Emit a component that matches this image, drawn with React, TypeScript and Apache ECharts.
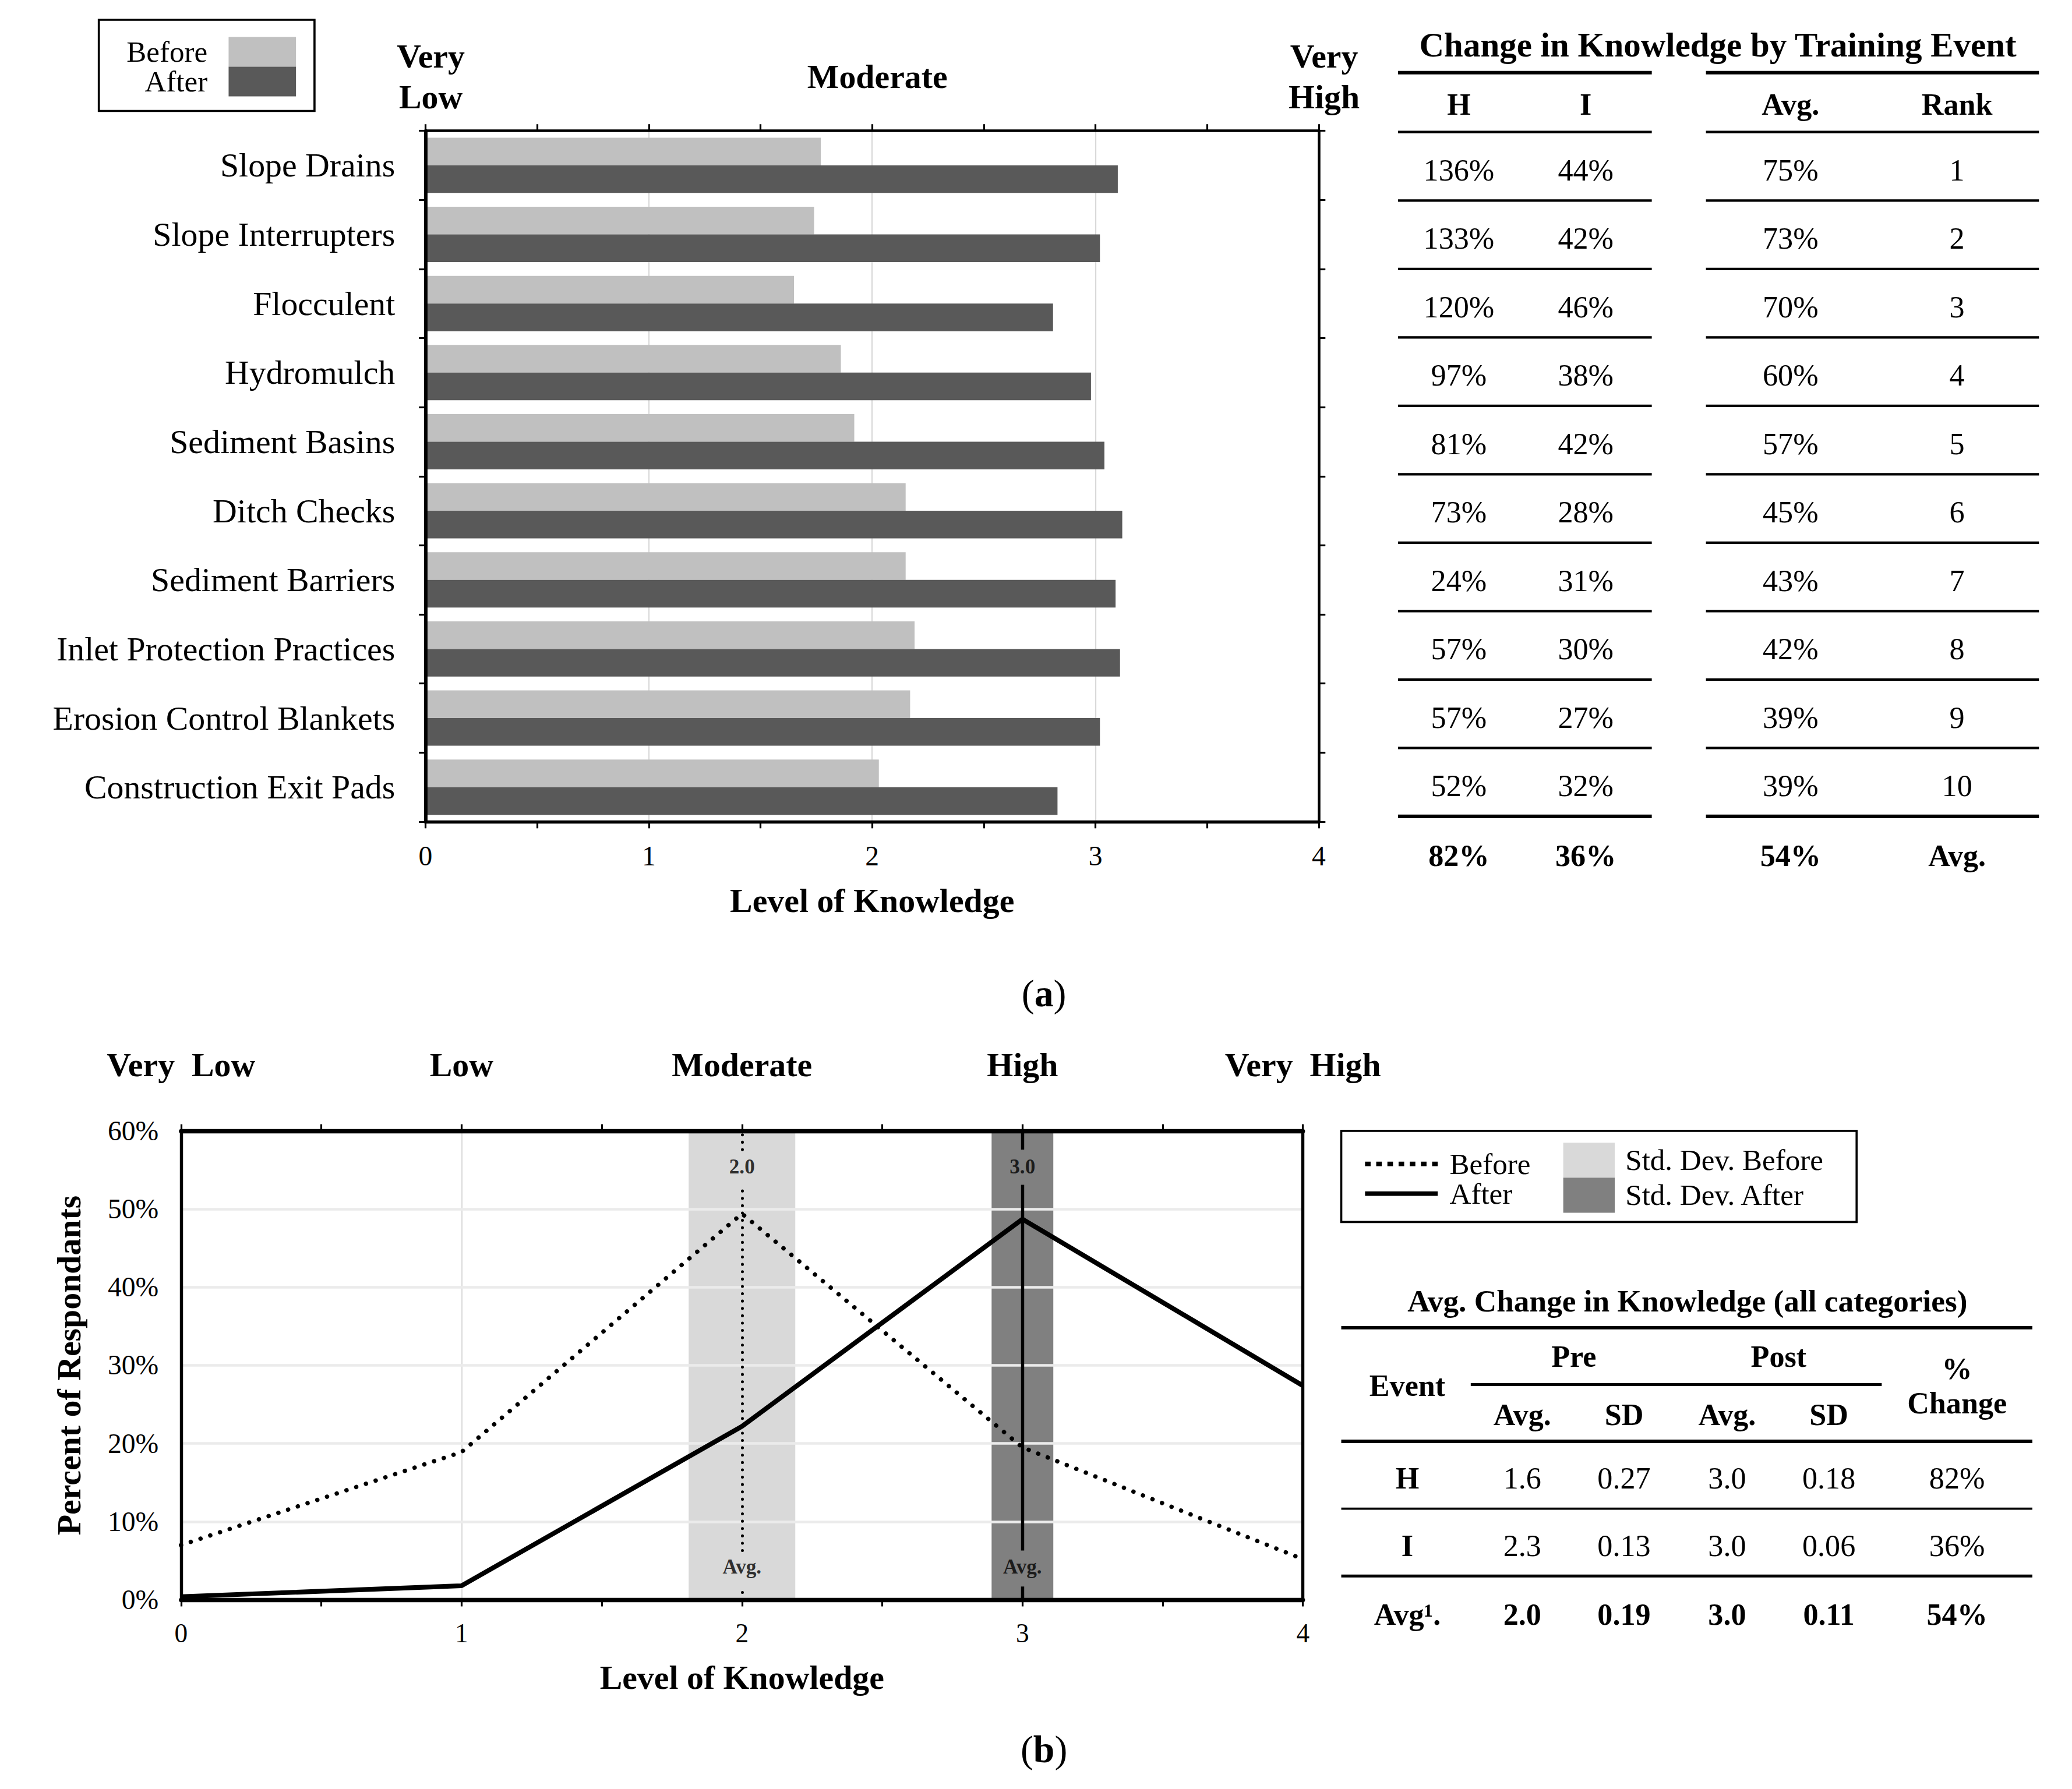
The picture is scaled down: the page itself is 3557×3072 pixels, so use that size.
import React, { useEffect, useRef } from "react";
import * as echarts from "echarts";

const W = 3557;
const H = 3072;
const k = W / 1568;
const p = (v: number) => v * k;
const FONT = '"Liberation Serif", "Times New Roman", serif';

// ---------- Panel (a) data ----------
const categories = [
  "Slope Drains",
  "Slope Interrupters",
  "Flocculent",
  "Hydromulch",
  "Sediment Basins",
  "Ditch Checks",
  "Sediment Barriers",
  "Inlet Protection Practices",
  "Erosion Control Blankets",
  "Construction Exit Pads",
];
const beforeLevel = [1.77, 1.74, 1.65, 1.86, 1.92, 2.15, 2.15, 2.19, 2.17, 2.03];
const afterLevel = [3.1, 3.02, 2.81, 2.98, 3.04, 3.12, 3.09, 3.11, 3.02, 2.83];
const levelLabelsA = ["Very\nLow", "", "Moderate", "", "Very\nHigh"];
const changeH = [136, 133, 120, 97, 81, 73, 24, 57, 57, 52];
const changeI = [44, 42, 46, 38, 42, 28, 31, 30, 27, 32];
const changeAvg = [75, 73, 70, 60, 57, 45, 43, 42, 39, 39];
const ranks = [1, 2, 3, 4, 5, 6, 7, 8, 9, 10];
const totalsA = [82, 36, 54];
const tableAHeaders = ["H", "I", "Avg.", "Rank"];

// ---------- Panel (b) data ----------
const levelLabelsB = ["Very  Low", "Low", "Moderate", "High", "Very  High"];
const knowledgeLevels = [0, 1, 2, 3, 4];
const beforePct = [7.0, 18.9, 49.4, 19.5, 5.2];
const afterPct = [0.4, 1.8, 22.2, 48.7, 27.4];
const events = ["H", "I", "Avg¹."];
const preAvg = [1.6, 2.3, 2.0];
const preSD = [0.27, 0.13, 0.19];
const postAvg = [3.0, 3.0, 3.0];
const postSD = [0.18, 0.06, 0.11];
const pctChange = [82, 36, 54];
const lineLegendNames: Record<string, string> = { "Before line": "Before", "After line": "After" };

const font = (size: number, bold = false) => `${bold ? "bold " : ""}${p(size)}px ${FONT}`;

function txt(x: number, y: number, text: string, size: number, bold = false, align = "center") {
  return {
    type: "text",
    x: p(x),
    y: p(y),
    silent: true,
    style: { text, font: font(size, bold), fill: "#000", align, verticalAlign: "middle" },
  };
}
function hline(x1: number, x2: number, y: number, w: number) {
  return {
    type: "line",
    silent: true,
    shape: { x1: p(x1), y1: p(y), x2: p(x2), y2: p(y) },
    style: { stroke: "#000", lineWidth: p(w) },
  };
}

function buildGraphics() {
  const els: any[] = [];
  // Table (a)
  els.push(txt(1300, 34, "Change in Knowledge by Training Event", 26, true));
  const segs = [
    [1058, 1250],
    [1291, 1543],
  ];
  const step = 51.8;
  segs.forEach(([a, b]) => {
    els.push(hline(a, b, 55, 2.6));
    els.push(hline(a, b, 100, 2));
    for (let i = 1; i <= 10; i++) els.push(hline(a, b, 100 + i * step, i === 10 ? 2.8 : 1.9));
  });
  const colA = [1104, 1200, 1355, 1481];
  tableAHeaders.forEach((h, j) => els.push(txt(colA[j], 79, h, 23, true)));
  for (let i = 0; i < categories.length; i++) {
    const y = 100 + (i + 0.5) * step + 3;
    els.push(txt(colA[0], y, `${changeH[i]}%`, 23));
    els.push(txt(colA[1], y, `${changeI[i]}%`, 23));
    els.push(txt(colA[2], y, `${changeAvg[i]}%`, 23));
    els.push(txt(colA[3], y, `${ranks[i]}`, 23));
  }
  els.push(txt(colA[0], 648, `${totalsA[0]}%`, 23, true));
  els.push(txt(colA[1], 648, `${totalsA[1]}%`, 23, true));
  els.push(txt(colA[2], 648, `${totalsA[2]}%`, 23, true));
  els.push(txt(colA[3], 648, "Avg.", 23, true));

  // Legend (b) border
  els.push({
    type: "rect",
    silent: true,
    shape: { x: p(1015), y: p(856), width: p(390), height: p(69) },
    style: { fill: "none", stroke: "#000", lineWidth: p(1.6) },
  });

  // Table (b)
  els.push(txt(1277, 985, "Avg. Change in Knowledge (all categories)", 23.5, true));
  els.push(hline(1015, 1538, 1005, 2.6));
  els.push(txt(1191, 1027, "Pre", 23, true));
  els.push(txt(1346, 1027, "Post", 23, true));
  els.push(hline(1113, 1424, 1048, 2.2));
  els.push(txt(1065, 1049, "Event", 23, true));
  els.push(txt(1481, 1036, "%", 23, true));
  els.push(txt(1481, 1062, "Change", 23, true));
  const colB = [1065, 1152, 1229, 1307, 1384, 1481];
  ["Avg.", "SD", "Avg.", "SD"].forEach((h, j) => els.push(txt(colB[j + 1], 1071, h, 23, true)));
  els.push(hline(1015, 1538, 1091, 2.6));
  const rowY = [1119, 1170, 1222];
  events.forEach((ev, i) => {
    const bold = i === events.length - 1;
    const y = rowY[i];
    els.push(txt(colB[0], y, ev, 23, true));
    els.push(txt(colB[1], y, preAvg[i].toFixed(1), 23, bold));
    els.push(txt(colB[2], y, preSD[i].toFixed(2), 23, bold));
    els.push(txt(colB[3], y, postAvg[i].toFixed(1), 23, bold));
    els.push(txt(colB[4], y, postSD[i].toFixed(2), 23, bold));
    els.push(txt(colB[5], y, `${pctChange[i]}%`, 23, bold));
  });
  els.push(hline(1015, 1538, 1142, 1.6));
  els.push(hline(1015, 1538, 1193, 2.2));

  // Panel captions
  ["a", "b"].forEach((c, i) => {
    els.push({
      type: "text",
      x: p(790),
      y: p(i === 0 ? 752 : 1324),
      silent: true,
      style: {
        text: `({b|${c}})`,
        font: font(29),
        fill: "#000",
        align: "center",
        verticalAlign: "middle",
        rich: { b: { font: font(29, true), fill: "#000" } },
      },
    });
  });
  return els;
}

const axisBlack = (w: number) => ({ show: true, onZero: false, lineStyle: { color: "#000", width: p(w) } });
const tickStyle = { show: true, length: p(5), lineStyle: { color: "#000", width: p(1.4) } };
const minorStyle = { show: true, splitNumber: 2, length: p(5), lineStyle: { color: "#000", width: p(1.4) } };
const labelStyle = (size: number, bold = false) => ({
  fontSize: p(size),
  fontFamily: FONT,
  fontWeight: bold ? "bold" : "normal",
  color: "#000",
});

const dottedIcon =
  "path://M0,0h1v1h-1zM2,0h1v1h-1zM4,0h1v1h-1zM6,0h1v1h-1zM8,0h1v1h-1zM10,0h1v1h-1zM12,0h1v1h-1z";
const solidIcon = "path://M0,0h13v1h-13z";
const LEG_FONT = 22.5;

function avgSegments(x: number) {
  return [
    [{ coord: [x, 0] }, { coord: [x, 1.7] }],
    [{ coord: [x, 6.3] }, { coord: [x, 53.1] }],
    [{ coord: [x, 57.6] }, { coord: [x, 60] }],
  ];
}

function buildOption(): any {
  const bandPre = [preAvg[2] - preSD[2], preAvg[2] + preSD[2]];
  const bandPost = [postAvg[2] - postSD[2], postAvg[2] + postSD[2]];
  return {
    animation: false,
    backgroundColor: "#fff",
    grid: [
      { left: p(322), top: p(99), width: p(676), height: p(523), containLabel: false, outerBoundsMode: "none" },
      { left: p(137), top: p(856), width: p(849), height: p(355), containLabel: false, outerBoundsMode: "none" },
    ],
    xAxis: [
      {
        gridIndex: 0,
        type: "value",
        position: "bottom",
        min: 0,
        max: 4,
        interval: 1,
        axisLine: axisBlack(2.4),
        axisTick: tickStyle,
        minorTick: minorStyle,
        splitLine: { show: true, lineStyle: { color: "#d9d9d9", width: p(1) } },
        axisLabel: { ...labelStyle(21), margin: p(15.5) },
        name: "Level of Knowledge",
        nameLocation: "middle",
        nameGap: p(47),
        nameTextStyle: labelStyle(25.5, true),
        z: 1,
      },
      {
        gridIndex: 0,
        type: "value",
        position: "top",
        min: 0,
        max: 4,
        interval: 1,
        axisLine: axisBlack(2),
        axisTick: tickStyle,
        minorTick: minorStyle,
        splitLine: { show: false },
        axisLabel: {
          ...labelStyle(25.5, true),
          formatter: (v: number) => levelLabelsA[Math.round(v)] ?? "",
          lineHeight: p(31),
          verticalAlign: "middle",
          padding: [0, 0, 0, p(8)],
          margin: p(41),
        },
        z: 3,
      },
      {
        gridIndex: 1,
        type: "value",
        position: "bottom",
        min: 0,
        max: 4,
        interval: 1,
        axisLine: axisBlack(3.2),
        axisTick: tickStyle,
        minorTick: minorStyle,
        splitLine: { show: false },
        axisLabel: { ...labelStyle(20), margin: p(15.5) },
        name: "Level of Knowledge",
        nameLocation: "middle",
        nameGap: p(46),
        nameTextStyle: labelStyle(25.5, true),
        z: 6,
      },
      {
        gridIndex: 1,
        type: "value",
        position: "top",
        min: 0,
        max: 4,
        interval: 1,
        axisLine: axisBlack(3.2),
        axisTick: tickStyle,
        minorTick: minorStyle,
        splitLine: { show: false },
        axisLabel: {
          ...labelStyle(25.5, true),
          formatter: (v: number) => levelLabelsB[Math.round(v)] ?? "",
          verticalAlign: "middle",
          margin: p(50),
        },
        z: 6,
      },
      {
        gridIndex: 1,
        type: "value",
        position: "bottom",
        min: 0,
        max: 4,
        interval: 1,
        axisLine: { show: false, onZero: false },
        axisTick: { show: false },
        axisLabel: { show: false },
        splitLine: { show: true, lineStyle: { color: "#dcdcdc", width: p(1) } },
        z: 0,
      },
    ],
    yAxis: [
      {
        gridIndex: 0,
        type: "category",
        data: categories,
        inverse: true,
        position: "left",
        axisLine: axisBlack(2.6),
        axisTick: tickStyle,
        axisLabel: { ...labelStyle(25.5), margin: p(23) },
        splitLine: { show: false },
        z: 3,
      },
      {
        gridIndex: 0,
        type: "category",
        data: categories,
        inverse: true,
        position: "right",
        axisLine: axisBlack(2),
        axisTick: tickStyle,
        axisLabel: { show: false },
        splitLine: { show: false },
        z: 3,
      },
      {
        gridIndex: 1,
        type: "value",
        position: "left",
        min: 0,
        max: 60,
        interval: 10,
        axisLine: axisBlack(2.4),
        axisTick: { show: false },
        axisLabel: { ...labelStyle(21), formatter: "{value}%", margin: p(17) },
        splitLine: { show: true, lineStyle: { color: "#ebebeb", width: p(2) } },
        name: "Percent of Respondants",
        nameLocation: "middle",
        nameGap: p(72),
        nameRotate: 90,
        nameTextStyle: labelStyle(25.5, true),
        z: 2,
      },
      {
        gridIndex: 1,
        type: "value",
        position: "right",
        min: 0,
        max: 60,
        interval: 10,
        axisLine: axisBlack(2.4),
        axisTick: { show: false },
        axisLabel: { show: false },
        splitLine: { show: false },
        z: 6,
      },
    ],
    legend: [
      {
        data: ["Before", "After"],
        orient: "vertical",
        align: "right",
        right: W - p(238),
        top: p(15),
        padding: [p(13), p(14), p(11), p(21)],
        itemWidth: p(51),
        itemHeight: p(LEG_FONT),
        itemGap: 0,
        icon: "rect",
        borderColor: "#000",
        borderWidth: p(1.6),
        selectedMode: false,
        textStyle: { ...labelStyle(LEG_FONT), lineHeight: p(LEG_FONT), padding: [0, p(13.8), 0, 0] },
      },
      {
        data: [
          { name: "Before line", icon: dottedIcon },
          { name: "After line", icon: solidIcon },
        ],
        orient: "vertical",
        left: p(1033),
        top: p(881 - LEG_FONT / 2),
        padding: 0,
        itemWidth: p(55),
        itemHeight: p(3.4),
        itemGap: 0,
        symbolKeepAspect: false,
        selectedMode: false,
        formatter: (n: string) => lineLegendNames[n] ?? n,
        textStyle: { ...labelStyle(LEG_FONT), lineHeight: p(LEG_FONT), padding: [0, 0, 0, p(6.8)] },
      },
      {
        data: [
          { name: "Std. Dev. Before", icon: "rect" },
          { name: "Std. Dev. After", icon: "rect" },
        ],
        orient: "vertical",
        left: p(1183),
        top: p(865),
        padding: 0,
        itemWidth: p(39),
        itemHeight: p(26.5),
        itemGap: 0,
        selectedMode: false,
        textStyle: { ...labelStyle(LEG_FONT), lineHeight: p(LEG_FONT), padding: [0, 0, 0, p(5.8)] },
      },
    ],
    series: [
      {
        name: "Before",
        type: "bar",
        xAxisIndex: 0,
        yAxisIndex: 0,
        data: beforeLevel,
        itemStyle: { color: "#c0c0c0" },
        barGap: "0%",
        barCategoryGap: "20%",
        z: 2,
      },
      {
        name: "After",
        type: "bar",
        xAxisIndex: 0,
        yAxisIndex: 0,
        data: afterLevel,
        itemStyle: { color: "#595959" },
        barGap: "0%",
        barCategoryGap: "20%",
        z: 2,
      },
      {
        name: "Std. Dev. Before",
        type: "line",
        xAxisIndex: 2,
        yAxisIndex: 2,
        data: [[preAvg[2], 0]],
        showSymbol: false,
        symbol: "none",
        color: "#d9d9d9",
        itemStyle: { color: "#d9d9d9" },
        lineStyle: { opacity: 0 },
        z: 1,
        markArea: {
          silent: true,
          itemStyle: { color: "#d9d9d9" },
          data: [[{ xAxis: bandPre[0] }, { xAxis: bandPre[1] }]],
        },
      },
      {
        name: "Std. Dev. After",
        type: "line",
        xAxisIndex: 2,
        yAxisIndex: 2,
        data: [[postAvg[2], 0]],
        showSymbol: false,
        symbol: "none",
        color: "#808080",
        itemStyle: { color: "#808080" },
        lineStyle: { opacity: 0 },
        z: 1,
        markArea: {
          silent: true,
          itemStyle: { color: "#808080" },
          data: [[{ xAxis: bandPost[0] }, { xAxis: bandPost[1] }]],
        },
      },
      {
        name: "Before line",
        type: "line",
        xAxisIndex: 2,
        yAxisIndex: 2,
        data: knowledgeLevels.map((x, i) => [x, beforePct[i]]),
        symbol: "none",
        color: "#000",
        lineStyle: { color: "#000", width: 7.5, type: [0.1, 17.5], cap: "round" },
        z: 4,
        markLine: {
          silent: true,
          symbol: ["none", "none"],
          label: { show: false },
          lineStyle: { color: "#000", width: 5, type: [0.1, 12.5], cap: "round" },
          data: avgSegments(preAvg[2]),
        },
      },
      {
        name: "After line",
        type: "line",
        xAxisIndex: 2,
        yAxisIndex: 2,
        data: knowledgeLevels.map((x, i) => [x, afterPct[i]]),
        symbol: "none",
        color: "#000",
        lineStyle: { color: "#000", width: p(3.6) },
        z: 4,
        markLine: {
          silent: true,
          symbol: ["none", "none"],
          label: { show: false },
          lineStyle: { color: "#000", width: p(2.4), type: "solid" },
          data: avgSegments(postAvg[2]),
        },
      },
      {
        name: "avgLabels",
        type: "scatter",
        xAxisIndex: 2,
        yAxisIndex: 2,
        symbolSize: 1,
        itemStyle: { color: "rgba(0,0,0,0)" },
        silent: true,
        z: 5,
        data: [
          { value: [preAvg[2], 55.4], name: preAvg[2].toFixed(1) },
          { value: [preAvg[2], 4.2], name: "Avg." },
          { value: [postAvg[2], 55.4], name: postAvg[2].toFixed(1) },
          { value: [postAvg[2], 4.2], name: "Avg." },
        ],
        label: { show: true, position: "inside", formatter: "{b}", ...labelStyle(15.5, true) },
      },
    ],
    graphic: { elements: buildGraphics() },
  };
}

export default function App() {
  const ref = useRef<HTMLDivElement>(null);
  useEffect(() => {
    if (!ref.current) return;
    const chart = echarts.init(ref.current, undefined, { renderer: "svg", width: W, height: H });
    chart.setOption(buildOption());
    return () => chart.dispose();
  }, []);
  return (
    <div
      ref={ref}
      style={{ position: "absolute", left: 0, top: 0, width: W, height: H, background: "#fff" }}
    />
  );
}
